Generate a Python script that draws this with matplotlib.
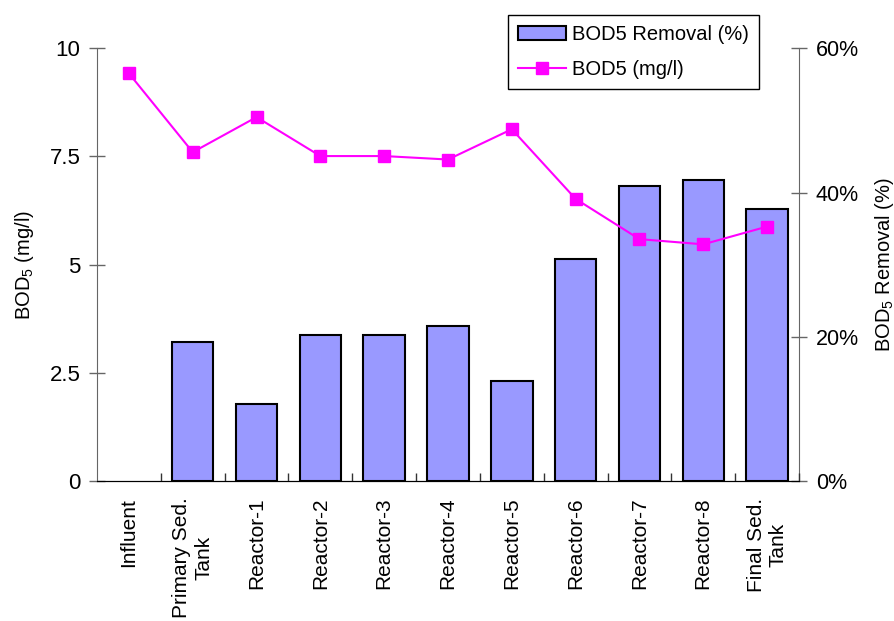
import matplotlib
matplotlib.use("Agg")
import matplotlib.pyplot as plt
from matplotlib.ticker import FuncFormatter

plt.rcParams['font.family'] = ['Liberation Sans', 'DejaVu Sans']
plt.rcParams['mathtext.fontset'] = 'custom'
plt.rcParams['mathtext.rm'] = 'Liberation Sans'
plt.rcParams['mathtext.it'] = 'Liberation Sans:italic'

# BOD5 along the treatment line
stages = ['Influent', 'Primary Sed.\nTank', 'Reactor-1', 'Reactor-2', 'Reactor-3',
          'Reactor-4', 'Reactor-5', 'Reactor-6', 'Reactor-7', 'Reactor-8',
          'Final Sed.\nTank']
bod5_mgl = [9.42, 7.60, 8.41, 7.51, 7.51, 7.43, 8.13, 6.52, 5.59, 5.47, 5.88]
removal_pct = [0, 19.3, 10.7, 20.2, 20.2, 21.5, 13.9, 30.8, 40.9, 41.8, 37.7]

x = list(range(len(stages)))

fig = plt.figure(figsize=(8.95, 6.21), dpi=100)
ax = fig.add_axes([0.1084, 0.2254, 0.7843, 0.6968])
ax2 = ax.twinx()

# bars on the percent axis, line on top on the mg/l axis
bars = ax2.bar(x, removal_pct, width=0.65, color='#9999FF', edgecolor='black',
               linewidth=1.5, label='BOD5 Removal (%)')
ax.set_zorder(ax2.get_zorder() + 1)
ax.patch.set_visible(False)
line, = ax.plot(x, bod5_mgl, color='#FF00FF', linewidth=1.5, marker='s',
                markersize=8, label='BOD5 (mg/l)')

ax.set_xlim(-0.5, len(stages) - 0.5)
ax.set_ylim(0, 10)
ax2.set_ylim(0, 60)
ax.set_yticks([0, 2.5, 5, 7.5, 10])
ax.set_yticklabels(['0', '2.5', '5', '7.5', '10'])
ax2.set_yticks([0, 20, 40, 60])
ax2.yaxis.set_major_formatter(FuncFormatter(lambda v, p: f'{v:.0f}%'))

for a in (ax, ax2):
    a.spines['top'].set_visible(False)
    a.spines['bottom'].set_color('black')
ax.spines['right'].set_visible(False)
ax2.spines['left'].set_visible(False)
ax.spines['left'].set_color('#666666')
ax2.spines['right'].set_color('#666666')

ax.tick_params(axis='y', direction='inout', length=12, width=1, color='#666666',
               labelsize=16, pad=6)
ax2.tick_params(axis='y', direction='inout', length=12, width=1, color='#666666',
                labelsize=15.5, pad=6)

# category labels centred, ticks between categories
ax.set_xticks(x)
ax.set_xticklabels(stages, rotation=90, fontsize=15, ha='center', va='top',
                   multialignment='center')
ax.tick_params(axis='x', length=0, pad=12)
ax.set_xticks([i + 0.5 for i in x], minor=True)
ax.tick_params(axis='x', which='minor', direction='in', length=6, width=1,
               color='#333333')

ax.set_ylabel('BOD$_5$ (mg/l)', fontsize=14.5, labelpad=10)
ax2.set_ylabel('BOD$_5$ Removal (%)', fontsize=14.5, labelpad=10)

leg = fig.legend(handles=[bars, line], loc='upper right',
                 bbox_to_anchor=(0.848, 0.976), fontsize=14.5, frameon=True,
                 fancybox=False, edgecolor='black', framealpha=1,
                 borderpad=0.5, handlelength=2.4, handletextpad=0.3,
                 labelspacing=0.8, borderaxespad=0)
leg.get_frame().set_linewidth(1)

# no outline for the empty influent bar (after the legend copied the style)
for b, v in zip(bars, removal_pct):
    if v == 0:
        b.set_linewidth(0)

fig.savefig('out.png', dpi=100)
